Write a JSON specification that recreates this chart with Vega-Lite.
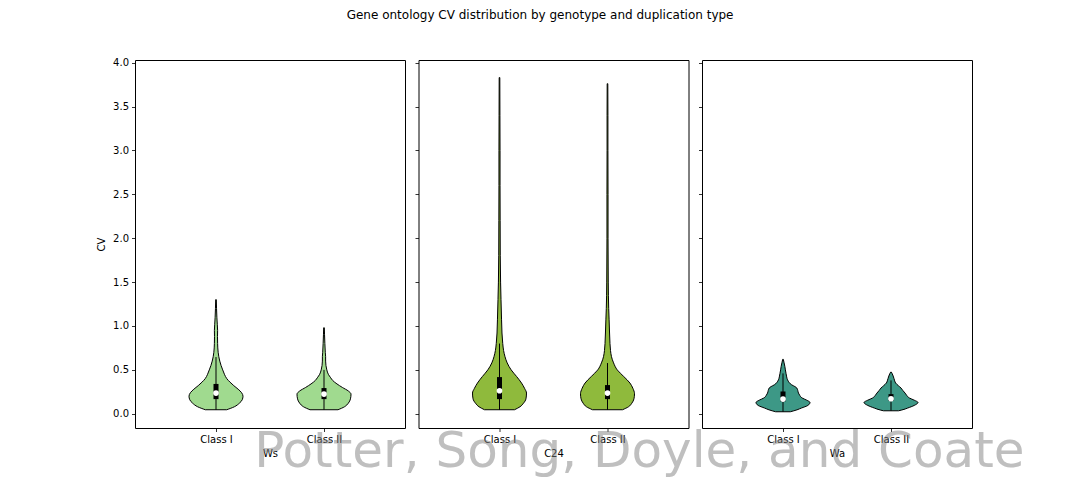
{
  "$schema": "https://vega.github.io/schema/vega-lite/v6.json",
  "background": "white",
  "padding": {"left": 96, "top": 9, "right": 10, "bottom": 5},
  "title": {"text": "Gene ontology CV distribution by genotype and duplication type", "font": "DejaVu Sans", "fontSize": 12, "fontWeight": "normal", "color": "black", "anchor": "middle", "offset": 35, "dx": -20.5},
  "config": {
    "view": {"stroke": "black", "strokeWidth": 1},
    "font": "DejaVu Sans",
    "axis": {"domain": false, "grid": false, "tickColor": "black", "tickSize": 3.5, "tickWidth": 0.8, "labelFont": "DejaVu Sans", "labelFontSize": 10, "labelColor": "black", "labelPadding": 3, "titleFont": "DejaVu Sans", "titleFontSize": 10, "titleFontWeight": "normal", "titleColor": "black"}
  },
  "datasets": {
    "violin": [
      {"g": "Ws", "c": "Class I", "pos": 1, "cv": 0.046, "w": 0.099},
      {"g": "Ws", "c": "Class I", "pos": 1, "cv": 0.08, "w": 0.17},
      {"g": "Ws", "c": "Class I", "pos": 1, "cv": 0.12, "w": 0.216},
      {"g": "Ws", "c": "Class I", "pos": 1, "cv": 0.16, "w": 0.243},
      {"g": "Ws", "c": "Class I", "pos": 1, "cv": 0.2, "w": 0.25},
      {"g": "Ws", "c": "Class I", "pos": 1, "cv": 0.24, "w": 0.237},
      {"g": "Ws", "c": "Class I", "pos": 1, "cv": 0.28, "w": 0.205},
      {"g": "Ws", "c": "Class I", "pos": 1, "cv": 0.32, "w": 0.165},
      {"g": "Ws", "c": "Class I", "pos": 1, "cv": 0.36, "w": 0.13},
      {"g": "Ws", "c": "Class I", "pos": 1, "cv": 0.4, "w": 0.1},
      {"g": "Ws", "c": "Class I", "pos": 1, "cv": 0.45, "w": 0.078},
      {"g": "Ws", "c": "Class I", "pos": 1, "cv": 0.5, "w": 0.062},
      {"g": "Ws", "c": "Class I", "pos": 1, "cv": 0.55, "w": 0.047},
      {"g": "Ws", "c": "Class I", "pos": 1, "cv": 0.6, "w": 0.035},
      {"g": "Ws", "c": "Class I", "pos": 1, "cv": 0.65, "w": 0.026},
      {"g": "Ws", "c": "Class I", "pos": 1, "cv": 0.7, "w": 0.02},
      {"g": "Ws", "c": "Class I", "pos": 1, "cv": 0.8, "w": 0.015},
      {"g": "Ws", "c": "Class I", "pos": 1, "cv": 0.88, "w": 0.014},
      {"g": "Ws", "c": "Class I", "pos": 1, "cv": 0.95, "w": 0.015},
      {"g": "Ws", "c": "Class I", "pos": 1, "cv": 1.02, "w": 0.012},
      {"g": "Ws", "c": "Class I", "pos": 1, "cv": 1.1, "w": 0.008},
      {"g": "Ws", "c": "Class I", "pos": 1, "cv": 1.2, "w": 0.005},
      {"g": "Ws", "c": "Class I", "pos": 1, "cv": 1.3, "w": 0.003},
      {"g": "Ws", "c": "Class II", "pos": 2, "cv": 0.046, "w": 0.13},
      {"g": "Ws", "c": "Class II", "pos": 2, "cv": 0.08, "w": 0.19},
      {"g": "Ws", "c": "Class II", "pos": 2, "cv": 0.12, "w": 0.225},
      {"g": "Ws", "c": "Class II", "pos": 2, "cv": 0.17, "w": 0.245},
      {"g": "Ws", "c": "Class II", "pos": 2, "cv": 0.224, "w": 0.25},
      {"g": "Ws", "c": "Class II", "pos": 2, "cv": 0.26, "w": 0.225},
      {"g": "Ws", "c": "Class II", "pos": 2, "cv": 0.3, "w": 0.17},
      {"g": "Ws", "c": "Class II", "pos": 2, "cv": 0.34, "w": 0.12},
      {"g": "Ws", "c": "Class II", "pos": 2, "cv": 0.38, "w": 0.08},
      {"g": "Ws", "c": "Class II", "pos": 2, "cv": 0.41, "w": 0.062},
      {"g": "Ws", "c": "Class II", "pos": 2, "cv": 0.45, "w": 0.04},
      {"g": "Ws", "c": "Class II", "pos": 2, "cv": 0.5, "w": 0.026},
      {"g": "Ws", "c": "Class II", "pos": 2, "cv": 0.55, "w": 0.018},
      {"g": "Ws", "c": "Class II", "pos": 2, "cv": 0.6, "w": 0.015},
      {"g": "Ws", "c": "Class II", "pos": 2, "cv": 0.65, "w": 0.015},
      {"g": "Ws", "c": "Class II", "pos": 2, "cv": 0.7, "w": 0.012},
      {"g": "Ws", "c": "Class II", "pos": 2, "cv": 0.8, "w": 0.008},
      {"g": "Ws", "c": "Class II", "pos": 2, "cv": 0.9, "w": 0.005},
      {"g": "Ws", "c": "Class II", "pos": 2, "cv": 0.98, "w": 0.003},
      {"g": "C24", "c": "Class I", "pos": 1, "cv": 0.046, "w": 0.139},
      {"g": "C24", "c": "Class I", "pos": 1, "cv": 0.08, "w": 0.19},
      {"g": "C24", "c": "Class I", "pos": 1, "cv": 0.12, "w": 0.222},
      {"g": "C24", "c": "Class I", "pos": 1, "cv": 0.17, "w": 0.245},
      {"g": "C24", "c": "Class I", "pos": 1, "cv": 0.236, "w": 0.25},
      {"g": "C24", "c": "Class I", "pos": 1, "cv": 0.29, "w": 0.232},
      {"g": "C24", "c": "Class I", "pos": 1, "cv": 0.35, "w": 0.204},
      {"g": "C24", "c": "Class I", "pos": 1, "cv": 0.425, "w": 0.158},
      {"g": "C24", "c": "Class I", "pos": 1, "cv": 0.5, "w": 0.108},
      {"g": "C24", "c": "Class I", "pos": 1, "cv": 0.58, "w": 0.071},
      {"g": "C24", "c": "Class I", "pos": 1, "cv": 0.65, "w": 0.051},
      {"g": "C24", "c": "Class I", "pos": 1, "cv": 0.72, "w": 0.038},
      {"g": "C24", "c": "Class I", "pos": 1, "cv": 0.8, "w": 0.03},
      {"g": "C24", "c": "Class I", "pos": 1, "cv": 0.92, "w": 0.023},
      {"g": "C24", "c": "Class I", "pos": 1, "cv": 1.07, "w": 0.019},
      {"g": "C24", "c": "Class I", "pos": 1, "cv": 1.3, "w": 0.014},
      {"g": "C24", "c": "Class I", "pos": 1, "cv": 1.5, "w": 0.01},
      {"g": "C24", "c": "Class I", "pos": 1, "cv": 1.8, "w": 0.007},
      {"g": "C24", "c": "Class I", "pos": 1, "cv": 2.2, "w": 0.006},
      {"g": "C24", "c": "Class I", "pos": 1, "cv": 2.6, "w": 0.005},
      {"g": "C24", "c": "Class I", "pos": 1, "cv": 3.0, "w": 0.005},
      {"g": "C24", "c": "Class I", "pos": 1, "cv": 3.4, "w": 0.004},
      {"g": "C24", "c": "Class I", "pos": 1, "cv": 3.83, "w": 0.003},
      {"g": "C24", "c": "Class II", "pos": 2, "cv": 0.046, "w": 0.139},
      {"g": "C24", "c": "Class II", "pos": 2, "cv": 0.08, "w": 0.195},
      {"g": "C24", "c": "Class II", "pos": 2, "cv": 0.12, "w": 0.225},
      {"g": "C24", "c": "Class II", "pos": 2, "cv": 0.17, "w": 0.245},
      {"g": "C24", "c": "Class II", "pos": 2, "cv": 0.228, "w": 0.25},
      {"g": "C24", "c": "Class II", "pos": 2, "cv": 0.29, "w": 0.235},
      {"g": "C24", "c": "Class II", "pos": 2, "cv": 0.35, "w": 0.208},
      {"g": "C24", "c": "Class II", "pos": 2, "cv": 0.425, "w": 0.15},
      {"g": "C24", "c": "Class II", "pos": 2, "cv": 0.5, "w": 0.09},
      {"g": "C24", "c": "Class II", "pos": 2, "cv": 0.58, "w": 0.056},
      {"g": "C24", "c": "Class II", "pos": 2, "cv": 0.65, "w": 0.037},
      {"g": "C24", "c": "Class II", "pos": 2, "cv": 0.72, "w": 0.028},
      {"g": "C24", "c": "Class II", "pos": 2, "cv": 0.8, "w": 0.023},
      {"g": "C24", "c": "Class II", "pos": 2, "cv": 0.92, "w": 0.019},
      {"g": "C24", "c": "Class II", "pos": 2, "cv": 1.07, "w": 0.015},
      {"g": "C24", "c": "Class II", "pos": 2, "cv": 1.2, "w": 0.011},
      {"g": "C24", "c": "Class II", "pos": 2, "cv": 1.5, "w": 0.007},
      {"g": "C24", "c": "Class II", "pos": 2, "cv": 2.0, "w": 0.005},
      {"g": "C24", "c": "Class II", "pos": 2, "cv": 2.5, "w": 0.005},
      {"g": "C24", "c": "Class II", "pos": 2, "cv": 3.0, "w": 0.004},
      {"g": "C24", "c": "Class II", "pos": 2, "cv": 3.4, "w": 0.004},
      {"g": "C24", "c": "Class II", "pos": 2, "cv": 3.76, "w": 0.003},
      {"g": "Wa", "c": "Class I", "pos": 1, "cv": 0.023, "w": 0.068},
      {"g": "Wa", "c": "Class I", "pos": 1, "cv": 0.045, "w": 0.13},
      {"g": "Wa", "c": "Class I", "pos": 1, "cv": 0.065, "w": 0.17},
      {"g": "Wa", "c": "Class I", "pos": 1, "cv": 0.095, "w": 0.23},
      {"g": "Wa", "c": "Class I", "pos": 1, "cv": 0.129, "w": 0.25},
      {"g": "Wa", "c": "Class I", "pos": 1, "cv": 0.155, "w": 0.22},
      {"g": "Wa", "c": "Class I", "pos": 1, "cv": 0.18, "w": 0.177},
      {"g": "Wa", "c": "Class I", "pos": 1, "cv": 0.21, "w": 0.155},
      {"g": "Wa", "c": "Class I", "pos": 1, "cv": 0.236, "w": 0.143},
      {"g": "Wa", "c": "Class I", "pos": 1, "cv": 0.265, "w": 0.137},
      {"g": "Wa", "c": "Class I", "pos": 1, "cv": 0.293, "w": 0.128},
      {"g": "Wa", "c": "Class I", "pos": 1, "cv": 0.31, "w": 0.11},
      {"g": "Wa", "c": "Class I", "pos": 1, "cv": 0.33, "w": 0.08},
      {"g": "Wa", "c": "Class I", "pos": 1, "cv": 0.355, "w": 0.058},
      {"g": "Wa", "c": "Class I", "pos": 1, "cv": 0.387, "w": 0.042},
      {"g": "Wa", "c": "Class I", "pos": 1, "cv": 0.42, "w": 0.034},
      {"g": "Wa", "c": "Class I", "pos": 1, "cv": 0.46, "w": 0.028},
      {"g": "Wa", "c": "Class I", "pos": 1, "cv": 0.5, "w": 0.022},
      {"g": "Wa", "c": "Class I", "pos": 1, "cv": 0.54, "w": 0.017},
      {"g": "Wa", "c": "Class I", "pos": 1, "cv": 0.58, "w": 0.01},
      {"g": "Wa", "c": "Class I", "pos": 1, "cv": 0.62, "w": 0.003},
      {"g": "Wa", "c": "Class II", "pos": 2, "cv": 0.034, "w": 0.07},
      {"g": "Wa", "c": "Class II", "pos": 2, "cv": 0.05, "w": 0.12},
      {"g": "Wa", "c": "Class II", "pos": 2, "cv": 0.065, "w": 0.154},
      {"g": "Wa", "c": "Class II", "pos": 2, "cv": 0.095, "w": 0.215},
      {"g": "Wa", "c": "Class II", "pos": 2, "cv": 0.129, "w": 0.25},
      {"g": "Wa", "c": "Class II", "pos": 2, "cv": 0.155, "w": 0.215},
      {"g": "Wa", "c": "Class II", "pos": 2, "cv": 0.18, "w": 0.17},
      {"g": "Wa", "c": "Class II", "pos": 2, "cv": 0.21, "w": 0.145},
      {"g": "Wa", "c": "Class II", "pos": 2, "cv": 0.236, "w": 0.13},
      {"g": "Wa", "c": "Class II", "pos": 2, "cv": 0.265, "w": 0.11},
      {"g": "Wa", "c": "Class II", "pos": 2, "cv": 0.293, "w": 0.093},
      {"g": "Wa", "c": "Class II", "pos": 2, "cv": 0.32, "w": 0.068},
      {"g": "Wa", "c": "Class II", "pos": 2, "cv": 0.35, "w": 0.043},
      {"g": "Wa", "c": "Class II", "pos": 2, "cv": 0.375, "w": 0.034},
      {"g": "Wa", "c": "Class II", "pos": 2, "cv": 0.4, "w": 0.028},
      {"g": "Wa", "c": "Class II", "pos": 2, "cv": 0.43, "w": 0.02},
      {"g": "Wa", "c": "Class II", "pos": 2, "cv": 0.46, "w": 0.01},
      {"g": "Wa", "c": "Class II", "pos": 2, "cv": 0.475, "w": 0.003}
    ],
    "box": [
      {"g": "Ws", "c": "Class I", "pos": 1, "q1": 0.167, "med": 0.236, "q3": 0.34, "wlo": 0.046, "whi": 0.646},
      {"g": "Ws", "c": "Class II", "pos": 2, "q1": 0.167, "med": 0.224, "q3": 0.293, "wlo": 0.046, "whi": 0.5},
      {"g": "C24", "c": "Class I", "pos": 1, "q1": 0.167, "med": 0.262, "q3": 0.418, "wlo": 0.046, "whi": 0.8},
      {"g": "C24", "c": "Class II", "pos": 2, "q1": 0.167, "med": 0.236, "q3": 0.327, "wlo": 0.046, "whi": 0.578},
      {"g": "Wa", "c": "Class I", "pos": 1, "q1": 0.14, "med": 0.167, "q3": 0.254, "wlo": 0.023, "whi": 0.46},
      {"g": "Wa", "c": "Class II", "pos": 2, "q1": 0.145, "med": 0.171, "q3": 0.224, "wlo": 0.034, "whi": 0.38}
    ],
    "note": [{"note": "Potter, Song, Doyle, and Coate"}]
  },
  "spacing": 13.5,
  "bounds": "flush",
  "hconcat": [
    {
      "width": 270, "height": 368,
      "layer": [
        {
          "data": {"name": "violin"},
          "transform": [{"filter": "datum.g == 'Ws'"}, {"calculate": "datum.pos - datum.w", "as": "lo"}, {"calculate": "datum.pos + datum.w", "as": "hi"}],
          "mark": {"type": "area", "orient": "horizontal", "fill": "#a0da8f", "opacity": 1, "stroke": "black", "strokeWidth": 1, "interpolate": "monotone"},
          "encoding": {
            "detail": {"field": "c"},
            "y": {"field": "cv", "type": "quantitative", "scale": {"domain": [-0.162, 4.03], "nice": false, "zero": false}, "axis": {"values": [0, 0.5, 1, 1.5, 2, 2.5, 3, 3.5, 4], "format": ".1f", "title": "CV", "titlePadding": 6}},
            "x": {"field": "lo", "type": "quantitative", "scale": {"domain": [0.25, 2.75], "nice": false, "zero": false}, "axis": {"values": [1, 2], "labelExpr": "datum.value == 1 ? 'Class I' : 'Class II'", "title": "Ws", "titlePadding": 4}},
            "x2": {"field": "hi"}
          }
        },
        {
          "data": {"name": "box"},
          "transform": [{"filter": "datum.g == 'Ws'"}],
          "mark": {"type": "rule", "color": "black", "strokeWidth": 1},
          "encoding": {"x": {"field": "pos", "type": "quantitative"}, "y": {"field": "wlo", "type": "quantitative"}, "y2": {"field": "whi"}}
        },
        {
          "data": {"name": "box"},
          "transform": [{"filter": "datum.g == 'Ws'"}],
          "mark": {"type": "rule", "color": "black", "strokeWidth": 5},
          "encoding": {"x": {"field": "pos", "type": "quantitative"}, "y": {"field": "q1", "type": "quantitative"}, "y2": {"field": "q3"}}
        },
        {
          "data": {"name": "box"},
          "transform": [{"filter": "datum.g == 'Ws'"}],
          "mark": {"type": "point", "shape": "circle", "filled": true, "fill": "white", "strokeWidth": 0, "opacity": 1, "size": 32},
          "encoding": {"x": {"field": "pos", "type": "quantitative"}, "y": {"field": "med", "type": "quantitative"}}
        }
      ]
    },
    {
      "width": 270, "height": 368,
      "layer": [
        {
          "data": {"name": "violin"},
          "transform": [{"filter": "datum.g == 'C24'"}, {"calculate": "datum.pos - datum.w", "as": "lo"}, {"calculate": "datum.pos + datum.w", "as": "hi"}],
          "mark": {"type": "area", "orient": "horizontal", "fill": "#8fba3c", "opacity": 1, "stroke": "black", "strokeWidth": 1, "interpolate": "monotone"},
          "encoding": {
            "detail": {"field": "c"},
            "y": {"field": "cv", "type": "quantitative", "scale": {"domain": [-0.162, 4.03], "nice": false, "zero": false}, "axis": {"values": [0, 0.5, 1, 1.5, 2, 2.5, 3, 3.5, 4], "labels": false, "title": null}},
            "x": {"field": "lo", "type": "quantitative", "scale": {"domain": [0.25, 2.75], "nice": false, "zero": false}, "axis": {"values": [1, 2], "labelExpr": "datum.value == 1 ? 'Class I' : 'Class II'", "title": "C24", "titlePadding": 4}},
            "x2": {"field": "hi"}
          }
        },
        {
          "data": {"name": "box"},
          "transform": [{"filter": "datum.g == 'C24'"}],
          "mark": {"type": "rule", "color": "black", "strokeWidth": 1},
          "encoding": {"x": {"field": "pos", "type": "quantitative"}, "y": {"field": "wlo", "type": "quantitative"}, "y2": {"field": "whi"}}
        },
        {
          "data": {"name": "box"},
          "transform": [{"filter": "datum.g == 'C24'"}],
          "mark": {"type": "rule", "color": "black", "strokeWidth": 5},
          "encoding": {"x": {"field": "pos", "type": "quantitative"}, "y": {"field": "q1", "type": "quantitative"}, "y2": {"field": "q3"}}
        },
        {
          "data": {"name": "box"},
          "transform": [{"filter": "datum.g == 'C24'"}],
          "mark": {"type": "point", "shape": "circle", "filled": true, "fill": "white", "strokeWidth": 0, "opacity": 1, "size": 32},
          "encoding": {"x": {"field": "pos", "type": "quantitative"}, "y": {"field": "med", "type": "quantitative"}}
        }
      ]
    },
    {
      "width": 270, "height": 368,
      "layer": [
        {
          "data": {"name": "violin"},
          "transform": [{"filter": "datum.g == 'Wa'"}, {"calculate": "datum.pos - datum.w", "as": "lo"}, {"calculate": "datum.pos + datum.w", "as": "hi"}],
          "mark": {"type": "area", "orient": "horizontal", "fill": "#3d9886", "opacity": 1, "stroke": "black", "strokeWidth": 1, "interpolate": "monotone"},
          "encoding": {
            "detail": {"field": "c"},
            "y": {"field": "cv", "type": "quantitative", "scale": {"domain": [-0.162, 4.03], "nice": false, "zero": false}, "axis": {"values": [0, 0.5, 1, 1.5, 2, 2.5, 3, 3.5, 4], "labels": false, "title": null}},
            "x": {"field": "lo", "type": "quantitative", "scale": {"domain": [0.25, 2.75], "nice": false, "zero": false}, "axis": {"values": [1, 2], "labelExpr": "datum.value == 1 ? 'Class I' : 'Class II'", "title": "Wa", "titlePadding": 4}},
            "x2": {"field": "hi"}
          }
        },
        {
          "data": {"name": "box"},
          "transform": [{"filter": "datum.g == 'Wa'"}],
          "mark": {"type": "rule", "color": "black", "strokeWidth": 1},
          "encoding": {"x": {"field": "pos", "type": "quantitative"}, "y": {"field": "wlo", "type": "quantitative"}, "y2": {"field": "whi"}}
        },
        {
          "data": {"name": "box"},
          "transform": [{"filter": "datum.g == 'Wa'"}],
          "mark": {"type": "rule", "color": "black", "strokeWidth": 5},
          "encoding": {"x": {"field": "pos", "type": "quantitative"}, "y": {"field": "q1", "type": "quantitative"}, "y2": {"field": "q3"}}
        },
        {
          "data": {"name": "box"},
          "transform": [{"filter": "datum.g == 'Wa'"}],
          "mark": {"type": "point", "shape": "circle", "filled": true, "fill": "white", "strokeWidth": 0, "opacity": 1, "size": 32},
          "encoding": {"x": {"field": "pos", "type": "quantitative"}, "y": {"field": "med", "type": "quantitative"}}
        },
        {
          "data": {"name": "note"},
          "mark": {"type": "text", "font": "DejaVu Sans", "fontSize": 50, "color": "#808080", "opacity": 0.5, "align": "center", "baseline": "alphabetic", "clip": false},
          "encoding": {"text": {"field": "note"}, "x": {"datum": -0.33, "type": "quantitative"}, "y": {"datum": -0.604, "type": "quantitative"}}
        }
      ]
    }
  ]
}
